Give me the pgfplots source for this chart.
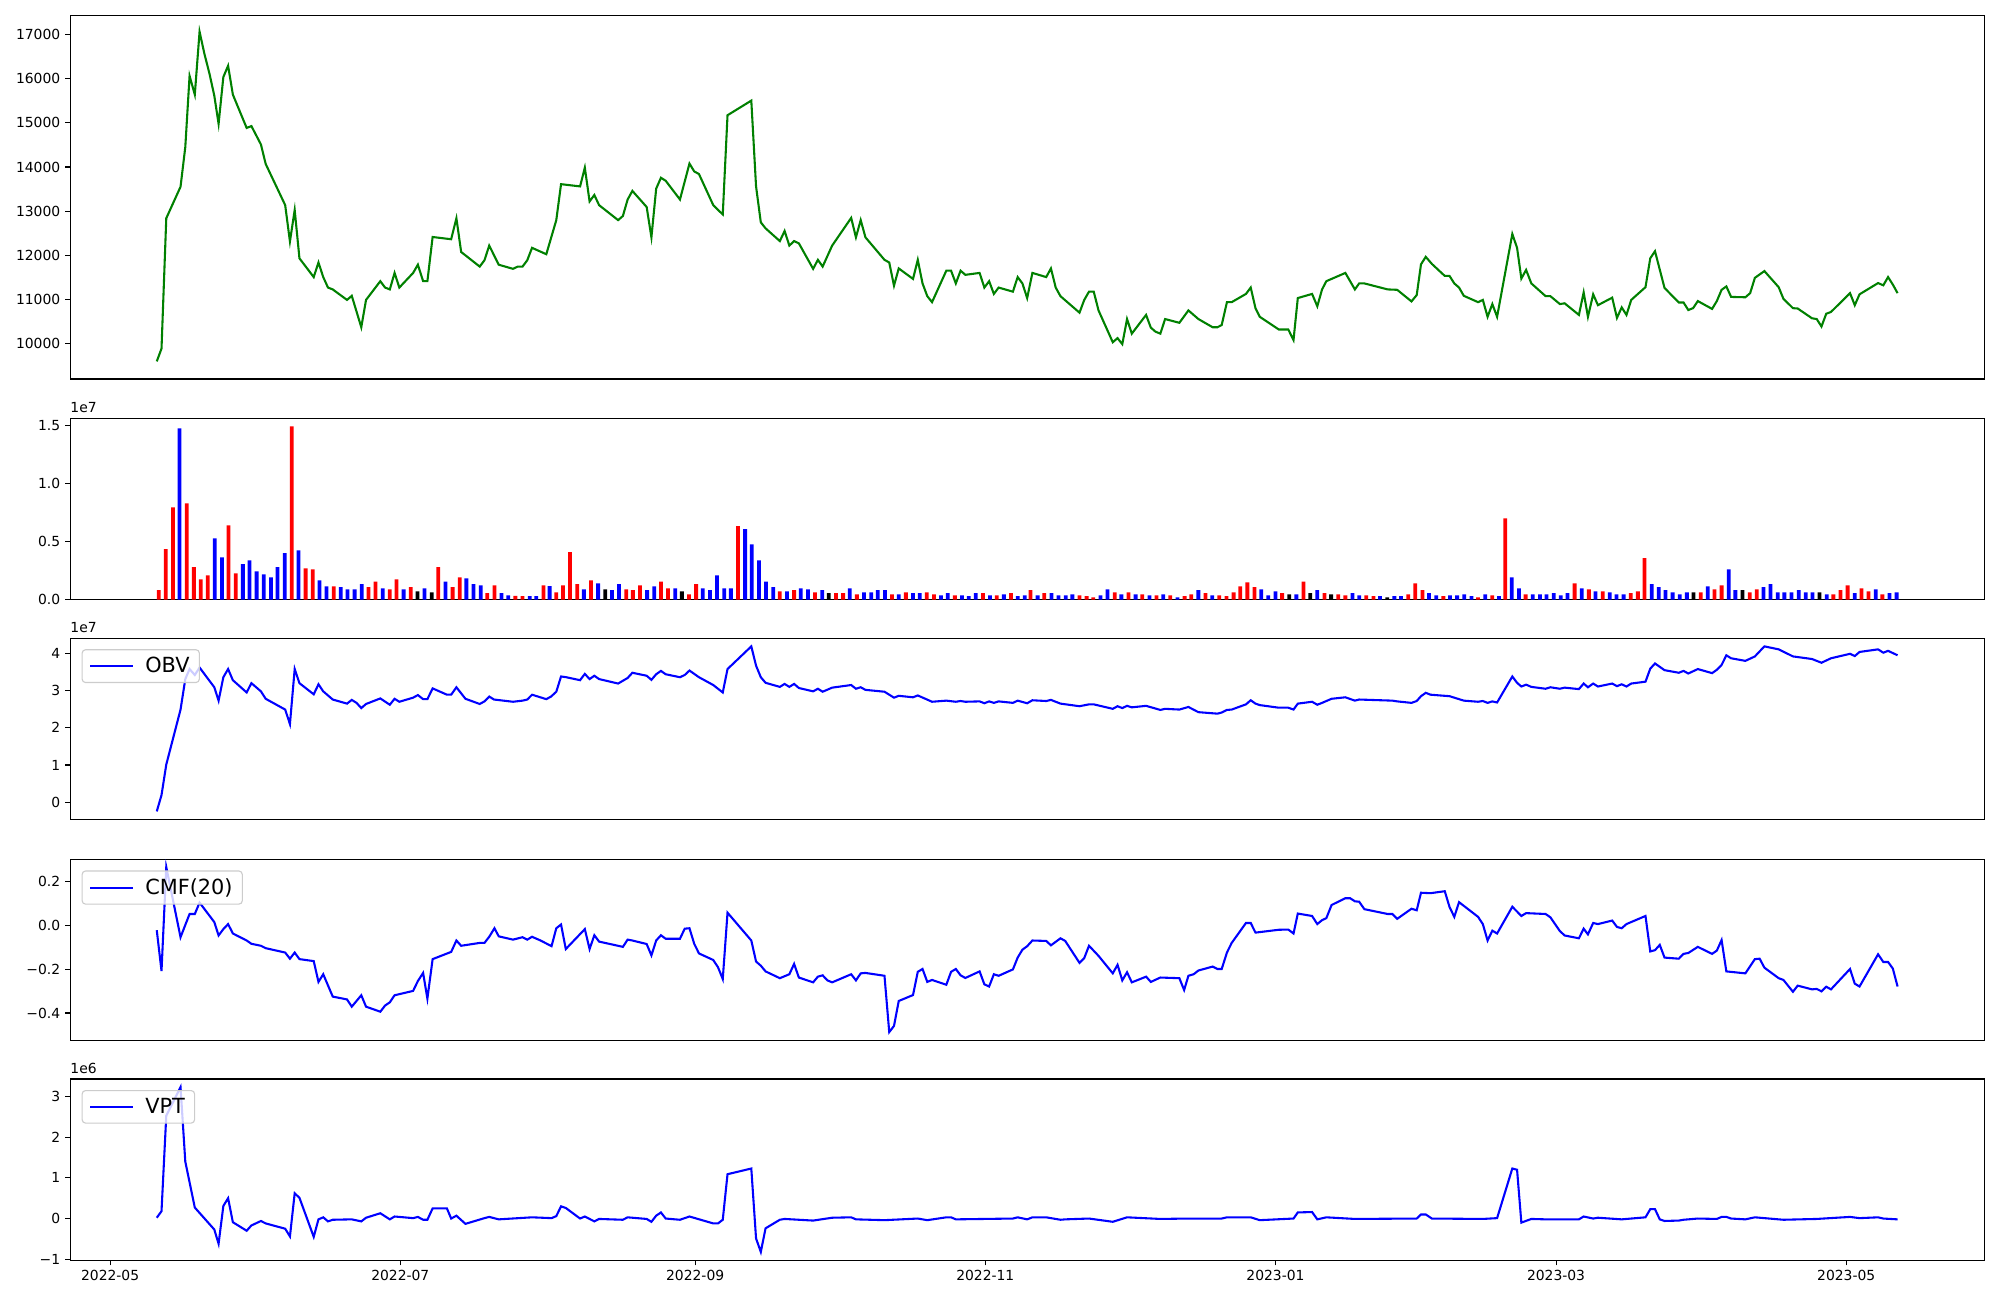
\documentclass[border=0pt]{standalone}
\usepackage{pgfplots}
\pgfplotsset{compat=1.18}
\usepackage{fontspec}
\setmainfont{DejaVu Sans}
\definecolor{mplgreen}{rgb}{0,0.5,0}
\pgfplotsset{
  base/.style={scale only axis, width=1378.4pt, xmin=-8.4, xmax=394.1,
    anchor=north west, scaled ticks=false,
    axis line style={line width=0.8pt, black},
    tick style={line width=0.8pt, black},
    major tick length=3.5pt, tick align=outside, tick pos=left,
    ticklabel style={font=\fontsize{10}{12}\selectfont, inner sep=0pt},
    yticklabel style={xshift=-3.5pt},
    xticklabel style={yshift=-3.5pt},
    xtick=\empty,
    legend style={at={(rel axis cs:0,1)}, anchor=north west, xshift=8.2pt, yshift=-7.9pt,
      draw=black!20, line width=0.8pt, rounded corners=2.5pt, fill=white, fill opacity=0.8, text opacity=1,
      font=\fontsize{15}{18}\selectfont, inner xsep=5pt, inner ysep=3.5pt},
    legend image code/.code={\draw[#1] (0pt,0pt) -- (31pt,0pt);},
  },
  small/.style={base, height=130.6pt},
}
\begin{document}
\begin{tikzpicture}
\path[use as bounding box] (0,0) rectangle (1440pt,-936pt);
% ---------------- price
\begin{axis}[base, at={(50.54pt,-11pt)}, height=261.9pt, ymin=9191, ymax=17440,
  ytick={10000,11000,12000,13000,14000,15000,16000,17000},
  yticklabels={10000,11000,12000,13000,14000,15000,16000,17000}]
\addplot[mplgreen, line width=1.5pt] table {
9.8 9591
10.8 9880
11.8 12837
14.8 13551
15.8 14451
16.7 16065
17.8 15641
18.8 17068
19.8 16575
20.9 16108
21.9 15615
22.8 14978
23.8 16040
24.8 16295
25.8 15641
28.7 14885
29.7 14927
31.7 14511
32.7 14069
36.8 13135
37.8 12310
38.8 13024
39.8 11928
42.8 11503
43.8 11834
44.8 11503
45.8 11265
46.8 11223
49.8 10985
50.8 11078
52.8 10365
53.8 10985
56.8 11410
57.8 11265
58.8 11223
59.8 11597
60.8 11265
63.7 11597
64.7 11784
65.8 11410
66.7 11410
67.8 12412
71.7 12361
72.8 12837
73.8 12072
77.7 11741
78.7 11885
79.7 12217
81.7 11783
84.7 11690
85.7 11741
86.7 11741
87.7 11885
88.7 12166
91.7 12021
93.8 12795
94.8 13610
98.8 13559
99.8 13984
100.8 13219
101.8 13364
102.8 13134
106.8 12794
107.8 12888
108.8 13262
109.8 13457
112.8 13092
113.8 12404
114.8 13508
115.8 13755
116.8 13687
119.8 13262
121.8 14077
122.8 13899
123.8 13839
126.8 13134
128.8 12922
129.8 15173
134.8 15505
135.8 13559
136.8 12744
137.8 12608
140.8 12319
141.8 12548
142.8 12217
143.8 12319
144.8 12268
147.8 11690
148.8 11894
149.8 11741
151.8 12217
155.8 12845
156.8 12404
157.8 12795
158.8 12404
162.8 11894
163.8 11834
164.8 11308
165.8 11699
168.8 11461
169.8 11894
170.8 11359
171.8 11070
172.8 10934
175.8 11648
176.8 11648
177.8 11359
178.8 11648
179.8 11554
182.8 11597
183.8 11265
184.8 11410
185.8 11121
186.8 11265
189.8 11172
190.8 11503
191.8 11359
192.8 11027
193.9 11597
196.8 11503
197.8 11699
198.8 11265
199.8 11070
203.8 10696
204.8 10985
205.8 11172
206.8 11172
207.8 10747
210.8 10025
211.8 10118
212.8 9982
213.8 10551
214.8 10220
217.8 10645
218.8 10356
219.8 10263
220.8 10220
221.8 10551
224.8 10466
226.7 10747
228.8 10551
231.8 10365
232.8 10365
233.7 10416
234.8 10934
235.8 10934
238.8 11121
239.8 11265
240.8 10798
241.7 10602
245.7 10314
247.7 10314
248.8 10076
249.7 11027
252.7 11121
253.8 10841
254.8 11223
255.7 11410
259.7 11597
261.7 11223
262.6 11359
263.7 11359
268.6 11223
270.6 11214
273.6 10951
274.7 11095
275.6 11792
276.6 11962
277.9 11800
280.6 11529
281.6 11529
282.6 11359
283.6 11265
284.6 11078
287.6 10934
288.6 10985
289.6 10602
290.6 10891
291.6 10602
294.8 12480
295.8 12166
296.7 11469
297.7 11665
298.8 11359
301.8 11070
302.8 11070
304.8 10891
305.8 10908
308.8 10645
309.8 11155
310.7 10602
311.8 11112
312.8 10866
315.8 11036
316.8 10577
317.8 10815
318.8 10645
319.8 10985
322.8 11274
323.8 11928
324.8 12089
326.8 11257
329.8 10926
330.8 10926
331.8 10756
332.8 10798
333.8 10959
336.8 10781
337.8 10959
338.8 11214
339.8 11291
340.8 11053
343.8 11045
344.8 11138
345.8 11486
347.8 11639
350.8 11274
351.8 11010
353.8 10798
354.8 10790
357.8 10569
358.8 10551
359.8 10382
360.8 10671
361.8 10712
365.8 11138
366.8 10866
367.8 11112
371.7 11367
372.8 11316
373.8 11503
374.8 11333
375.8 11138
};
\end{axis}
% ---------------- volume
\begin{axis}[small, name=vol, at={(50.54pt,-301.1pt)}, ymin=0, ymax=1.565,
  ytick={0,0.5,1.0,1.5}, yticklabels={0.0,0.5,1.0,1.5}]
\addplot[ybar, bar width=0.8, bar shift=0pt, fill=red, draw=none] table {
10.2 0.081
11.7 0.435
13.2 0.795
16.1 0.831
17.6 0.279
19.05 0.175
20.5 0.208
24.9 0.64
26.4 0.227
38.2 1.494
41.1 0.269
42.6 0.26
47.0 0.114
54.3 0.107
55.8 0.156
58.8 0.088
60.2 0.175
63.2 0.107
69.0 0.279
72.0 0.107
73.5 0.192
79.3 0.055
80.8 0.123
85.2 0.032
86.7 0.029
91.1 0.123
93.8 0.062
95.2 0.123
96.7 0.409
98.2 0.133
101.1 0.166
108.5 0.088
109.9 0.081
111.4 0.123
115.8 0.156
117.3 0.097
121.7 0.045
123.2 0.133
132.0 0.633
140.8 0.071
143.8 0.081
148.2 0.062
152.6 0.055
154.1 0.055
157.0 0.045
164.4 0.045
167.3 0.062
171.7 0.062
173.2 0.045
177.6 0.036
183.5 0.055
186.4 0.036
189.4 0.055
193.5 0.081
196.4 0.055
203.8 0.036
205.3 0.029
206.7 0.019
211.2 0.062
214.1 0.062
217.0 0.045
220.0 0.036
222.9 0.036
225.9 0.029
227.3 0.045
230.3 0.055
233.2 0.036
234.7 0.029
236.2 0.062
237.6 0.114
239.1 0.149
240.6 0.107
246.4 0.055
250.9 0.156
255.3 0.055
258.2 0.045
259.7 0.036
264.1 0.036
265.6 0.029
272.9 0.045
274.4 0.14
275.9 0.081
280.3 0.029
287.6 0.019
290.6 0.036
293.3 0.701
297.6 0.045
307.9 0.14
310.9 0.088
313.8 0.071
319.7 0.055
321.2 0.071
322.6 0.357
334.4 0.062
337.3 0.088
338.8 0.123
344.7 0.062
346.2 0.088
362.3 0.045
363.8 0.081
365.3 0.123
368.2 0.097
369.7 0.071
372.6 0.045
};
\addplot[ybar, bar width=0.8, bar shift=0pt, fill=blue, draw=none] table {
14.6 1.477
22.0 0.529
23.5 0.364
27.9 0.305
29.3 0.338
30.8 0.244
32.3 0.218
33.8 0.192
35.2 0.279
36.7 0.40
39.6 0.425
44.0 0.166
45.5 0.114
48.5 0.107
49.9 0.088
51.4 0.088
52.9 0.133
57.3 0.097
61.7 0.088
66.1 0.097
70.5 0.156
74.9 0.182
76.4 0.133
77.9 0.123
82.3 0.055
83.7 0.036
88.2 0.029
89.6 0.029
92.4 0.117
99.6 0.088
102.6 0.14
105.5 0.081
107.0 0.133
112.9 0.081
114.4 0.114
118.8 0.097
124.6 0.097
126.1 0.081
127.6 0.208
129.1 0.097
130.5 0.097
133.5 0.607
134.9 0.477
136.4 0.338
137.9 0.156
139.4 0.107
142.3 0.071
145.2 0.097
146.7 0.088
149.7 0.081
155.5 0.097
158.5 0.062
160.0 0.062
161.4 0.081
162.9 0.081
165.8 0.045
168.8 0.055
170.2 0.055
174.7 0.036
176.1 0.055
179.1 0.036
180.5 0.029
182.0 0.055
185.0 0.036
187.9 0.045
190.8 0.029
192.3 0.036
195.0 0.036
197.9 0.055
199.4 0.036
200.9 0.036
202.3 0.045
208.2 0.036
209.7 0.088
212.6 0.045
215.6 0.045
218.5 0.036
221.4 0.045
224.4 0.019
228.8 0.081
231.7 0.036
242.0 0.088
243.5 0.036
245.0 0.071
249.4 0.045
253.8 0.081
261.2 0.055
262.6 0.036
267.0 0.029
270.0 0.029
271.4 0.029
277.3 0.055
278.8 0.036
281.7 0.036
283.2 0.036
284.7 0.045
286.2 0.029
289.1 0.045
292.0 0.029
294.7 0.192
296.2 0.097
299.1 0.045
300.6 0.045
302.0 0.045
303.5 0.055
305.0 0.036
306.4 0.055
309.4 0.097
312.3 0.071
315.3 0.062
316.7 0.045
318.2 0.045
324.1 0.133
325.6 0.107
327.0 0.081
328.5 0.062
330.0 0.045
331.5 0.062
335.9 0.114
340.3 0.26
341.7 0.081
347.6 0.107
349.1 0.133
350.6 0.062
352.0 0.062
353.5 0.062
355.0 0.081
356.5 0.062
357.9 0.062
360.9 0.045
366.8 0.055
371.2 0.088
374.1 0.055
375.6 0.062
};
\addplot[ybar, bar width=0.8, bar shift=0pt, fill=black, draw=none] table {
64.6 0.071
67.6 0.062
104.1 0.088
120.2 0.071
151.1 0.055
247.9 0.045
252.3 0.055
256.7 0.045
268.5 0.019
332.9 0.062
343.2 0.081
359.4 0.062
};
\end{axis}
\node[anchor=south west, inner sep=0pt, font=\fontsize{10}{12}\selectfont] at ([yshift=4pt]vol.north west) {1e7};
% ---------------- OBV
\begin{axis}[small, name=obv, at={(50.54pt,-459.5pt)}, ymin=-0.47, ymax=4.41,
  ytick={0,1,2,3,4}, yticklabels={0,1,2,3,4}]
\addplot[blue, line width=1.5pt] table {
9.8 -0.25
10.8 0.19
11.8 1.01
14.8 2.49
15.8 3.31
16.7 3.58
17.8 3.42
18.8 3.62
21.9 3.09
22.8 2.73
23.8 3.36
24.8 3.58
25.8 3.28
28.7 2.95
29.7 3.20
31.7 2.98
32.7 2.78
36.8 2.49
37.8 2.10
38.8 3.58
39.8 3.20
42.8 2.90
43.8 3.17
44.8 2.98
46.8 2.76
49.8 2.65
50.8 2.75
51.8 2.67
52.8 2.53
53.8 2.64
56.8 2.79
58.8 2.62
59.8 2.78
60.8 2.70
63.7 2.81
64.7 2.88
65.8 2.77
66.7 2.77
67.8 3.06
70.8 2.89
71.7 2.89
72.8 3.09
74.7 2.78
77.7 2.64
78.7 2.71
79.7 2.84
80.7 2.76
84.7 2.70
86.7 2.73
87.7 2.76
88.7 2.89
91.7 2.77
92.7 2.84
93.8 2.97
94.8 3.38
95.9 3.36
98.8 3.28
99.8 3.45
100.8 3.31
101.8 3.40
102.8 3.31
106.8 3.19
108.8 3.34
109.8 3.48
112.8 3.40
113.8 3.29
114.8 3.44
115.8 3.53
116.8 3.44
119.8 3.36
120.8 3.42
121.8 3.54
123.8 3.36
126.8 3.15
128.8 2.95
129.8 3.58
134.8 4.19
135.8 3.67
136.8 3.36
137.8 3.21
140.8 3.10
141.8 3.18
142.8 3.10
143.8 3.18
144.8 3.07
147.8 2.98
148.8 3.05
149.8 2.97
151.8 3.08
155.8 3.15
156.8 3.05
157.8 3.09
158.8 3.02
162.8 2.97
164.8 2.81
165.8 2.86
168.8 2.82
169.8 2.87
172.8 2.70
175.8 2.73
177.8 2.70
178.8 2.72
179.8 2.70
182.8 2.71
183.8 2.66
184.8 2.71
185.8 2.67
186.8 2.71
189.8 2.67
190.8 2.73
192.8 2.66
193.9 2.74
196.8 2.72
197.8 2.75
199.8 2.65
203.8 2.58
205.8 2.63
206.8 2.63
210.8 2.51
211.8 2.58
212.8 2.53
213.8 2.59
214.8 2.55
217.8 2.59
220.8 2.48
221.8 2.51
224.8 2.49
226.7 2.56
228.8 2.42
232.8 2.38
233.7 2.41
234.8 2.48
235.8 2.49
238.8 2.63
239.8 2.74
240.8 2.65
241.7 2.61
245.7 2.54
247.7 2.54
248.8 2.49
249.7 2.65
252.7 2.70
253.8 2.62
254.8 2.67
256.8 2.78
259.7 2.82
261.7 2.73
262.6 2.76
269.6 2.73
270.6 2.71
273.6 2.67
274.7 2.72
275.6 2.85
276.6 2.94
277.6 2.89
281.6 2.85
284.6 2.73
287.6 2.70
288.6 2.72
289.6 2.67
290.6 2.71
291.6 2.68
294.8 3.38
295.8 3.21
296.7 3.11
297.7 3.16
298.8 3.10
301.8 3.05
302.8 3.09
304.8 3.05
305.8 3.08
308.8 3.04
309.8 3.19
310.7 3.09
311.8 3.19
312.8 3.11
315.8 3.19
316.8 3.12
317.8 3.17
318.8 3.11
319.8 3.19
322.8 3.24
323.8 3.59
324.8 3.73
326.8 3.55
329.8 3.48
330.8 3.53
331.8 3.46
333.8 3.58
336.8 3.47
337.8 3.56
338.8 3.69
339.8 3.95
340.8 3.87
343.8 3.80
345.8 3.92
347.8 4.19
350.8 4.11
353.8 3.92
357.8 3.85
359.8 3.75
361.8 3.87
365.8 3.99
366.8 3.93
367.8 4.04
371.7 4.11
372.8 4.02
373.8 4.07
375.8 3.95
};
\addlegendentry{\hspace{6pt}OBV}
\end{axis}
\node[anchor=south west, inner sep=0pt, font=\fontsize{10}{12}\selectfont] at ([yshift=4pt]obv.north west) {1e7};
% ---------------- CMF
\begin{axis}[small, at={(50.54pt,-618.8pt)}, ymin=-0.527, ymax=0.301,
  ytick={-0.4,-0.2,0,0.2}, yticklabels={−0.4,−0.2,0.0,0.2}]
\addplot[blue, line width=1.5pt] table {
9.8 -0.022
10.8 -0.208
11.8 0.266
14.8 -0.054
15.8 0.002
16.7 0.052
17.8 0.052
18.8 0.104
21.9 0.015
22.8 -0.046
23.8 -0.017
24.8 0.006
25.8 -0.037
28.7 -0.069
29.7 -0.084
31.7 -0.093
32.7 -0.104
36.8 -0.124
37.8 -0.152
38.8 -0.124
39.8 -0.154
42.8 -0.163
43.8 -0.258
44.8 -0.223
46.8 -0.325
49.8 -0.338
50.8 -0.371
52.8 -0.319
53.8 -0.371
56.8 -0.394
57.8 -0.366
58.8 -0.351
59.8 -0.319
63.7 -0.299
64.7 -0.254
65.8 -0.217
66.7 -0.334
67.8 -0.154
71.7 -0.121
72.8 -0.069
73.8 -0.093
77.7 -0.080
78.7 -0.080
79.7 -0.052
80.8 -0.013
81.7 -0.050
84.7 -0.065
86.7 -0.054
87.7 -0.065
88.7 -0.052
90.5 -0.069
92.8 -0.095
93.8 -0.013
94.8 0.004
95.8 -0.108
99.8 -0.017
100.8 -0.108
101.8 -0.045
102.8 -0.074
107.8 -0.098
108.8 -0.065
109.8 -0.069
112.8 -0.085
113.8 -0.137
114.8 -0.069
115.8 -0.045
116.8 -0.061
119.8 -0.061
120.8 -0.015
121.8 -0.013
122.8 -0.084
123.8 -0.128
126.8 -0.158
127.8 -0.191
128.8 -0.245
129.8 0.058
134.8 -0.069
135.8 -0.165
136.8 -0.184
137.8 -0.210
140.8 -0.241
142.8 -0.223
143.8 -0.176
144.8 -0.238
147.8 -0.260
148.8 -0.234
149.8 -0.228
150.8 -0.251
151.8 -0.260
155.8 -0.223
156.8 -0.251
157.8 -0.219
158.8 -0.217
162.8 -0.230
163.8 -0.487
164.8 -0.459
165.8 -0.345
168.8 -0.318
169.8 -0.212
170.8 -0.199
171.8 -0.258
172.8 -0.249
175.8 -0.271
176.8 -0.212
177.8 -0.199
178.8 -0.228
179.8 -0.240
182.8 -0.210
183.8 -0.269
184.8 -0.279
185.8 -0.223
186.8 -0.230
189.8 -0.201
190.8 -0.147
191.8 -0.111
192.8 -0.095
193.9 -0.069
196.8 -0.071
197.8 -0.091
199.8 -0.059
200.8 -0.071
203.8 -0.171
204.8 -0.149
205.8 -0.093
207.8 -0.139
210.8 -0.219
211.8 -0.180
212.8 -0.251
213.8 -0.214
214.8 -0.260
217.8 -0.234
218.8 -0.258
220.8 -0.238
224.8 -0.241
225.8 -0.295
226.7 -0.230
227.8 -0.223
228.8 -0.206
231.8 -0.188
232.8 -0.199
233.7 -0.199
234.8 -0.124
235.8 -0.080
238.8 0.011
239.8 0.011
240.8 -0.033
245.7 -0.020
247.7 -0.019
248.8 -0.037
249.7 0.054
252.7 0.043
253.8 0.006
254.8 0.024
255.7 0.033
256.8 0.093
259.7 0.124
260.7 0.124
261.7 0.110
262.6 0.108
263.7 0.074
268.6 0.052
269.6 0.052
270.6 0.030
273.6 0.076
274.7 0.069
275.6 0.149
277.6 0.147
280.6 0.156
281.6 0.084
282.6 0.039
283.6 0.106
287.6 0.039
288.6 0.006
289.6 -0.069
290.6 -0.024
291.6 -0.037
294.8 0.085
295.8 0.063
296.7 0.043
297.7 0.056
301.8 0.052
302.8 0.037
304.8 -0.026
305.8 -0.046
308.8 -0.059
309.8 -0.015
310.7 -0.041
311.8 0.011
312.8 0.006
315.8 0.022
316.8 -0.007
317.8 -0.013
318.8 0.006
322.8 0.043
323.8 -0.119
324.8 -0.113
325.8 -0.089
326.8 -0.147
329.8 -0.152
330.8 -0.130
331.8 -0.126
333.8 -0.098
336.8 -0.130
337.8 -0.115
338.8 -0.067
339.8 -0.210
343.8 -0.219
345.8 -0.154
346.8 -0.152
347.8 -0.193
350.8 -0.241
351.8 -0.249
353.8 -0.303
354.8 -0.275
357.8 -0.292
358.8 -0.290
359.8 -0.301
360.8 -0.280
361.8 -0.292
365.8 -0.199
366.8 -0.266
367.8 -0.279
371.7 -0.132
372.8 -0.167
373.8 -0.167
374.8 -0.197
375.8 -0.279
};
\addlegendentry{\hspace{6pt}CMF(20)}
\end{axis}
% ---------------- VPT
\begin{axis}[small, name=vpt, at={(50.54pt,-776.9pt)}, ymin=-1.03, ymax=3.43,
  ytick={-1,0,1,2,3}, yticklabels={−1,0,1,2,3},
  xtick={0,61,123,184,245,304,365},
  xticklabels={2022-05,2022-07,2022-09,2022-11,2023-01,2023-03,2023-05}]
\addplot[blue, line width=1.5pt] table {
9.8 0.02
10.8 0.18
11.8 2.53
14.8 3.23
15.8 1.40
17.8 0.27
21.9 -0.27
22.8 -0.62
23.8 0.31
24.8 0.50
25.8 -0.09
28.7 -0.30
29.7 -0.17
31.7 -0.06
32.7 -0.12
36.8 -0.25
37.8 -0.44
38.8 0.62
39.8 0.51
42.8 -0.45
43.8 -0.02
44.8 0.03
45.8 -0.07
46.8 -0.03
50.8 -0.02
52.8 -0.07
53.8 0.02
56.8 0.13
58.8 -0.02
59.8 0.05
63.7 0.01
64.7 0.04
65.8 -0.03
66.7 -0.03
67.8 0.25
70.8 0.25
71.7 0.00
72.8 0.07
74.7 -0.13
78.7 0.01
79.7 0.04
81.7 -0.02
88.7 0.03
92.8 0.01
93.8 0.06
94.8 0.30
95.8 0.26
98.8 0.00
99.8 0.05
101.8 -0.07
102.8 -0.01
107.8 -0.03
108.8 0.03
112.8 -0.01
113.8 -0.08
114.8 0.07
115.8 0.15
116.8 0.00
119.8 -0.03
121.8 0.05
126.8 -0.12
127.8 -0.12
128.8 -0.03
129.8 1.09
134.8 1.23
135.8 -0.49
136.8 -0.82
137.8 -0.24
140.8 -0.03
141.8 -0.01
147.8 -0.05
151.8 0.02
155.8 0.03
156.8 -0.02
162.8 -0.04
169.8 0.00
171.8 -0.04
175.8 0.03
176.8 0.03
177.8 -0.02
189.8 0.00
190.8 0.03
192.8 -0.02
193.9 0.03
196.8 0.03
199.8 -0.03
200.8 -0.02
205.8 0.00
210.8 -0.08
213.8 0.03
220.8 -0.01
226.7 0.00
233.7 0.00
234.8 0.03
239.8 0.03
241.7 -0.04
248.8 0.00
249.7 0.15
252.7 0.16
253.8 -0.02
255.7 0.03
261.7 -0.01
274.7 0.00
275.6 0.10
276.6 0.10
277.9 0.00
288.6 -0.01
291.6 0.01
294.8 1.23
295.8 1.20
296.7 -0.10
298.8 -0.01
301.8 -0.02
308.8 -0.02
309.8 0.05
311.8 0.00
312.8 0.02
317.8 -0.02
322.8 0.03
323.8 0.23
324.8 0.23
325.8 -0.02
326.8 -0.06
329.8 -0.05
330.8 -0.03
333.8 0.00
337.8 -0.01
338.8 0.04
339.8 0.04
340.8 0.00
343.8 -0.02
345.8 0.03
351.8 -0.03
358.8 -0.01
365.8 0.04
367.8 0.01
371.7 0.03
372.8 0.00
375.8 -0.02
};
\addlegendentry{\hspace{6pt}VPT}
\end{axis}
\node[anchor=south west, inner sep=0pt, font=\fontsize{10}{12}\selectfont] at ([yshift=4pt]vpt.north west) {1e6};
\end{tikzpicture}
\end{document}
